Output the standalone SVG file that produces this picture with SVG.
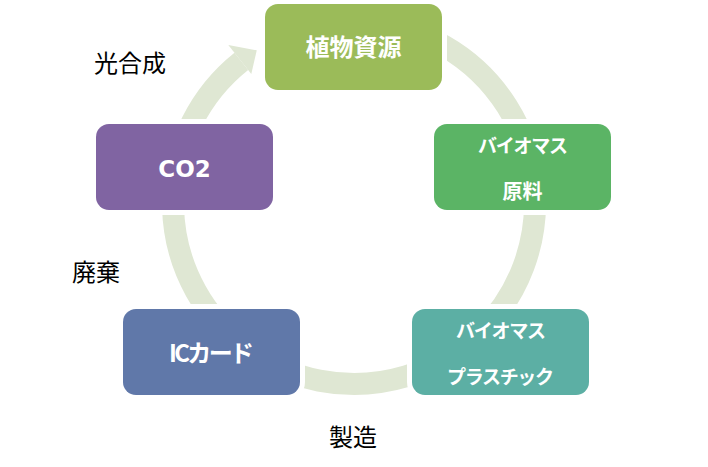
<svg xmlns="http://www.w3.org/2000/svg" width="708" height="467" viewBox="0 0 708 467">
<style>
.node rect{stroke:#fff;stroke-width:10;paint-order:stroke}
.nt{font-family:"Noto Sans CJK JP","Noto Sans",sans-serif;font-weight:bold;fill:#fff;text-anchor:middle}
.lbl{font-family:"Noto Sans CJK JP",sans-serif;font-size:24px;fill:#000}
</style>
<rect width="708" height="467" fill="#fff"/>
<g id="connectors">
<path d="M369.78,22.69 A181,181 0 1 1 241.33,61.35" fill="none" stroke="#DFE7D3" stroke-width="22"/>
<polygon points="228.3,44.9 256.75,50.34 251.3,73.9" fill="#DFE7D3"/>
</g>
<g id="n1" class="node"><rect x="265" y="4" width="177" height="86" rx="13" fill="#9BBB59"/><text class="nt" x="353.5" y="55.5" font-size="24">植物資源</text></g>
<g id="n2" class="node"><rect x="434" y="124" width="177" height="86" rx="13" fill="#5BB465"/><text class="nt" x="523" y="153" font-size="19" textLength="90" lengthAdjust="spacing">バイオマス</text><text class="nt" x="522.5" y="199" font-size="20">原料</text></g>
<g id="n3" class="node"><rect x="412" y="309" width="177" height="86" rx="13" fill="#5CAFA4"/><text class="nt" x="501" y="338" font-size="19" textLength="90" lengthAdjust="spacing">バイオマス</text><text class="nt" x="500.5" y="384" font-size="19" textLength="107" lengthAdjust="spacing">プラスチック</text></g>
<g id="n4" class="node"><rect x="123" y="309" width="177" height="86" rx="13" fill="#6078A9"/><text class="nt" x="211.5" y="362" font-size="24" textLength="85" lengthAdjust="spacing">ICカード</text></g>
<g id="n5" class="node"><rect x="96" y="124" width="177" height="86" rx="13" fill="#8064A2"/><text class="nt" x="184.5" y="177" font-size="23" style="font-family:'DejaVu Sans',sans-serif">CO2</text></g>
<text class="lbl" x="94" y="71.5">光合成</text>
<text class="lbl" x="72" y="281">廃棄</text>
<text class="lbl" x="329" y="446">製造</text>
</svg>
